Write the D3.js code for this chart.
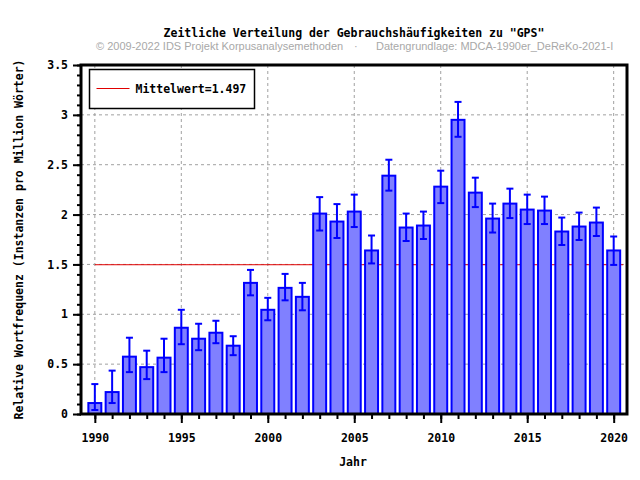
<!DOCTYPE html>
<html>
<head>
<meta charset="utf-8">
<script src="https://cdn.jsdelivr.net/npm/d3@7"></script>
<style>
    body { margin: 0; background: #fff; }
    text { font-family: "DejaVu Sans Mono", monospace; font-weight: bold; font-size: 11.5px; fill: #000; }
    .sub { font-family: "Liberation Sans", Arial, sans-serif; font-weight: normal; font-size: 11px; fill: #a8a8a8; }
</style>
</head>
<body>
<div id="vis"></div>
<script>
// Data
var years = [1990, 1991, 1992, 1993, 1994, 1995, 1996, 1997, 1998, 1999, 2000, 2001, 2002, 2003, 2004, 2005,
             2006, 2007, 2008, 2009, 2010, 2011, 2012, 2013, 2014, 2015, 2016, 2017, 2018, 2019, 2020];
var values = [0.11, 0.22, 0.575, 0.47, 0.565, 0.865, 0.755, 0.815, 0.685, 1.315, 1.045, 1.265, 1.175, 2.01, 1.93, 2.03,
              1.64, 2.39, 1.87, 1.89, 2.28, 2.95, 2.22, 1.96, 2.11, 2.05, 2.04, 1.83, 1.88, 1.92, 1.64];
var errLow = [0.04, 0.11, 0.42, 0.35, 0.42, 0.70, 0.64, 0.71, 0.59, 1.19, 0.94, 1.14, 1.04, 1.84, 1.765, 1.875,
              1.51, 2.24, 1.735, 1.755, 2.115, 2.78, 2.075, 1.82, 1.965, 1.905, 1.905, 1.695, 1.745, 1.785, 1.495];
var errHigh = [0.30, 0.435, 0.765, 0.635, 0.755, 1.045, 0.905, 0.935, 0.78, 1.445, 1.165, 1.405, 1.315, 2.175, 2.105, 2.20,
               1.79, 2.55, 2.01, 2.03, 2.44, 3.13, 2.37, 2.11, 2.26, 2.20, 2.18, 1.97, 2.02, 2.07, 1.78];
var mean = 1.497;
var yTicks = [0, 0.5, 1, 1.5, 2, 2.5, 3, 3.5];
var yTickLabels = ['0', '0.5', '1', '1.5', '2', '2.5', '3', '3.5'];
var xTicks = [1990, 1995, 2000, 2005, 2010, 2015, 2020];

var width = 640, height = 480;
var margin = { top: 65, right: 13, bottom: 66, left: 81 };
var drawWidth = width - margin.left - margin.right,
    drawHeight = height - margin.top - margin.bottom;

var svg = d3.select('#vis').append('svg')
    .attr('width', width)
    .attr('height', height);

var xScale = d3.scaleLinear().domain([1989.2, 2020.77]).range([0, drawWidth]);
var yScale = d3.scaleLinear().domain([0, 3.5]).range([drawHeight, 0]);

var g = svg.append('g')
    .attr('transform', 'translate(' + margin.left + ',' + margin.top + ')');

// grid
g.selectAll('.hgrid').data(yTicks.slice(1, -1)).enter().append('line')
    .attr('x1', 0).attr('x2', drawWidth)
    .attr('y1', function(d) { return yScale(d); })
    .attr('y2', function(d) { return yScale(d); })
    .attr('stroke', '#a0a0a0').attr('stroke-dasharray', '3,3');
g.selectAll('.vgrid').data(xTicks).enter().append('line')
    .attr('y1', 0).attr('y2', drawHeight)
    .attr('x1', function(d) { return xScale(d); })
    .attr('x2', function(d) { return xScale(d); })
    .attr('stroke', '#a0a0a0').attr('stroke-dasharray', '3,3');

// mean line
g.append('line')
    .attr('x1', xScale(1990)).attr('x2', xScale(2020.55))
    .attr('y1', yScale(mean)).attr('y2', yScale(mean))
    .attr('stroke', '#e00000').attr('stroke-width', 1);

// bars
var bw = 0.75 * (xScale(1) - xScale(0));
g.selectAll('rect.bar').data(values).enter().append('rect')
    .attr('class', 'bar')
    .attr('x', function(d, i) { return xScale(years[i]) - bw / 2; })
    .attr('y', function(d) { return yScale(d); })
    .attr('width', bw)
    .attr('height', function(d) { return drawHeight - yScale(d); })
    .attr('fill', '#8080ff')
    .attr('stroke', '#0000ff')
    .attr('stroke-width', 2);

// error bars
var eb = g.selectAll('g.err').data(years).enter().append('g').attr('class', 'err');
eb.append('line')
    .attr('x1', function(d) { return xScale(d); })
    .attr('x2', function(d) { return xScale(d); })
    .attr('y1', function(d, i) { return yScale(errLow[i]); })
    .attr('y2', function(d, i) { return yScale(errHigh[i]); })
    .attr('stroke', '#0000ff').attr('stroke-width', 2);
[errLow, errHigh].forEach(function(arr) {
    eb.append('line')
        .attr('x1', function(d) { return xScale(d) - 3.5; })
        .attr('x2', function(d) { return xScale(d) + 3.5; })
        .attr('y1', function(d, i) { return yScale(arr[i]); })
        .attr('y2', function(d, i) { return yScale(arr[i]); })
        .attr('stroke', '#0000ff').attr('stroke-width', 2);
});

// axes
var yAxis = d3.axisLeft(yScale).tickValues(yTicks)
    .tickFormat(function(d, i) { return yTickLabels[i]; })
    .tickSize(8).tickPadding(5);
var yMinor = d3.axisLeft(yScale).tickValues(d3.range(0, 3.51, 0.1)).tickSize(4).tickFormat('');
var xAxis = d3.axisBottom(xScale).tickValues(xTicks).tickFormat(d3.format('d')).tickSize(9).tickPadding(11);
var xMinor = d3.axisBottom(xScale).tickValues(years).tickSize(5).tickFormat('');

g.append('g').call(yMinor);
g.append('g').call(yAxis);
g.append('g').attr('transform', 'translate(0,' + drawHeight + ')').call(xMinor);
g.append('g').attr('transform', 'translate(0,' + drawHeight + ')').call(xAxis);
g.selectAll('.domain').remove();
g.selectAll('.tick line').attr('stroke', '#000').attr('stroke-width', 2);
g.selectAll('.tick text').style('font-family', '"DejaVu Sans Mono", monospace').style('font-size', '11.5px').style('font-weight', 'bold');

// frame
g.append('rect')
    .attr('x', 0).attr('y', 0)
    .attr('width', drawWidth).attr('height', drawHeight)
    .attr('fill', 'none').attr('stroke', '#000').attr('stroke-width', 3);

// legend
var legend = svg.append('g').attr('transform', 'translate(89.5,69.5)');
legend.append('rect').attr('width', 165).attr('height', 39)
    .attr('fill', '#fff').attr('stroke', '#000').attr('stroke-width', 1.5);
legend.append('line').attr('x1', 7).attr('x2', 40).attr('y1', 19).attr('y2', 19)
    .attr('stroke', '#e00000').attr('stroke-width', 1);
legend.append('text').attr('x', 46).attr('y', 23).text('Mittelwert=' + mean);

// titles
svg.append('text').attr('x', 354).attr('y', 37).attr('text-anchor', 'middle')
    .text('Zeitliche Verteilung der Gebrauchshäufigkeiten zu "GPS"');
svg.append('text').attr('class', 'sub').attr('x', 96).attr('y', 50)
    .text('© 2009-2022 IDS Projekt Korpusanalysemethoden');
svg.append('text').attr('class', 'sub').attr('x', 354).attr('y', 50).text('·');
svg.append('text').attr('class', 'sub').attr('x', 376).attr('y', 50)
    .text('Datengrundlage: MDCA-1990er_DeReKo-2021-I');
svg.append('text').attr('x', 353).attr('y', 466).attr('text-anchor', 'middle').text('Jahr');
svg.append('text')
    .attr('transform', 'translate(23,' + (margin.top + drawHeight / 2) + ') rotate(-90)')
    .attr('text-anchor', 'middle')
    .text('Relative Wortfrequenz (Instanzen pro Million Wörter)');
</script>
</body>
</html>
